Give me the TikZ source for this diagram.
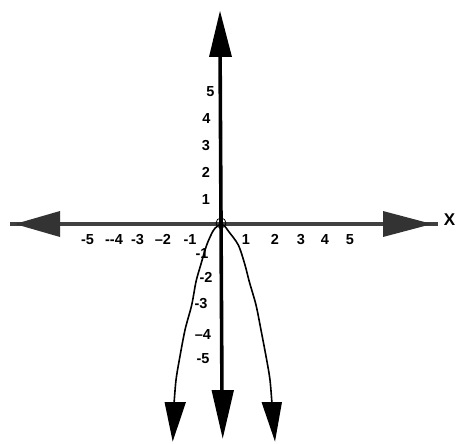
\documentclass[tikz,border=0pt]{standalone}
\usepackage{fontspec}
\setmainfont{Liberation Sans}
\begin{document}
\begin{tikzpicture}[x=1pt,y=-1pt,
  lbl/.style={inner sep=0pt,font=\fontsize{14.5}{14.5}\selectfont\bfseries},
  axisline/.style={line width=3.6pt,black},
  haxis/.style={line width=3.4pt,black!75},
  curve/.style={line width=1.6pt,black,line join=round},
  headv/.style={fill=black},
  headh/.style={fill=black!80}]
\useasboundingbox (0,0) rectangle (458,444);
% horizontal axis
\coordinate (hl) at (10,224);
\coordinate (hr) at (438,224);
\draw[haxis] (hl) -- (hr);
\fill[headh] (60,211) -- (60,237) -- (15,224) -- cycle;
\fill[headh] (383,211) -- (383,237) -- (432,224) -- cycle;
% vertical axis
\coordinate (vt) at (220,40);
\coordinate (vb) at (222,400);
\draw[axisline] (vt) -- (vb);
\fill[headv] (209,57) -- (232,57) -- (220,11) -- cycle;
\fill[headv] (211.5,390) -- (234,390) -- (222.7,438.5) -- cycle;
% origin circle
\coordinate (o) at (221,223);
\draw[line width=0.8pt] (o) circle (5);
% parabola branches
\draw[curve] plot[smooth,tension=0.5] coordinates {(221,224) (217,226.5) (213,231) (206.7,245) (200.7,265) (196,281.7) (191.7,305) (185,330) (179.3,360) (176,380) (174,404)};
\draw[curve] plot[smooth,tension=0.5] coordinates {(221,224) (225,226.5) (228.3,231) (238.3,245) (245,265) (249.3,281.7) (256,305) (261,330) (266.7,360) (270,380) (272,404)};
\fill[headv] (164.5,402) -- (186,402) -- (172.7,441.5) -- cycle;
\fill[headv] (261.5,402) -- (282,402) -- (275,441.5) -- cycle;
% x labels
\node[lbl] (xm5) at (87.5,239.5) {-5};
\node[lbl] (xm4) at (114,239.5) {-{}-4};
\node[lbl] (xm3) at (137.5,239.5) {-3};
\node[lbl] (xm2) at (163,239.5) {–2};
\node[lbl] (xm1) at (190,239.5) {-1};
\node[lbl] (x1) at (246,239.5) {1};
\node[lbl] (x2) at (275,239.5) {2};
\node[lbl] (x3) at (301,239.5) {3};
\node[lbl] (x4) at (325,239.5) {4};
\node[lbl] (x5) at (350,239.5) {5};
% y labels
\node[lbl] (y5) at (210.5,92) {5};
\node[lbl] (y4) at (206.5,118.5) {4};
\node[lbl] (y3) at (206,146) {3};
\node[lbl] (y2) at (206,172.5) {2};
\node[lbl] (y1) at (206,200) {1};
\node[lbl] (ym1) at (202,254) {-1};
\node[lbl] (ym2) at (206,277) {-2};
\node[lbl] (ym3) at (201,304) {-3};
\node[lbl] (ym4) at (203,335) {–4};
\node[lbl] (ym5) at (203,358.5) {-5};
% axis name
\node[inner sep=0pt,font=\fontsize{17}{17}\selectfont\bfseries] (xname) at (449.5,220) {X};
\end{tikzpicture}
\end{document}
